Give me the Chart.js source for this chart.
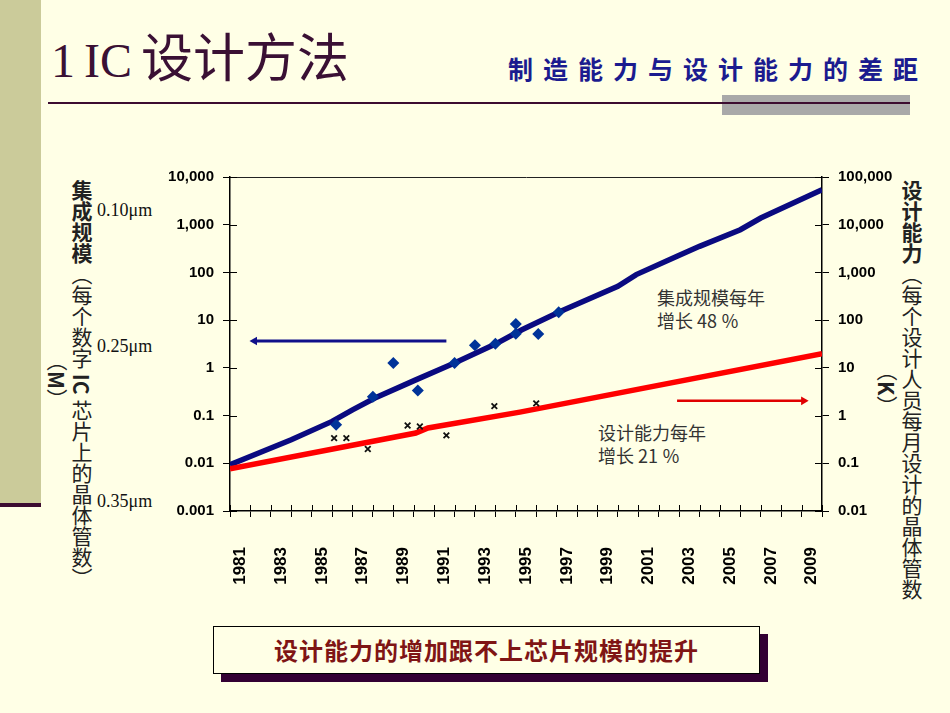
<!DOCTYPE html>
<html>
<head>
<meta charset="utf-8">
<script src="https://cdn.jsdelivr.net/npm/chart.js@4.4.1/dist/chart.umd.min.js"></script>
<style>
  html, body { margin: 0; padding: 0; }
  body {
    width: 950px; height: 713px; overflow: hidden; position: relative;
    background: #FFFFE6;
    font-family: "Liberation Sans", "Noto Sans CJK SC", sans-serif;
  }
  .abs { position: absolute; }
  #side { left: 0; top: 0; width: 41px; height: 504px; background: #CBCB9A; }
  #sideLine { left: 0; top: 503px; width: 41px; height: 4px; background: #3C0C30; }
  #title {
    left: 51px; top: 28px; font-size: 52px; line-height: 64px; color: #3A1034;
    font-family: "Liberation Serif", "Noto Sans CJK SC", serif; white-space: pre;
  }
  #title .lat { font-size: 48px; word-spacing: -3px; }
  #subtitle {
    left: 508px; top: 52px; font-size: 25px; line-height: 32px; color: #1B1B8F;
    font-weight: bold; letter-spacing: 10px; white-space: nowrap;
    font-family: "Noto Sans CJK SC", sans-serif;
  }
  #grayBar { left: 722px; top: 95px; width: 188px; height: 20px; background: #A9A9A9; }
  #rule { left: 48px; top: 102px; width: 862px; height: 2px; background: #3C0C30; }
  .vt {
    writing-mode: vertical-rl; font-size: 21px; line-height: 22px; color: #222;
    font-family: "Noto Sans CJK SC", sans-serif; white-space: nowrap;
  }
  .um { font-family: "Liberation Serif", serif; font-size: 18px; color: #111; }
  .note {
    font-family: "Noto Sans CJK SC", sans-serif; font-size: 18px; line-height: 23px;
    color: #333; white-space: nowrap;
  }
  #box {
    left: 213px; top: 626px; width: 545px; height: 46px; border: 1px solid #000;
    background: #FFFFE6; box-shadow: 8px 8px 0 #330033;
    text-align: center; line-height: 46px; font-size: 24px; font-weight: bold;
    color: #7F1515; letter-spacing: 1px; font-family: "Noto Sans CJK SC", sans-serif;
  }
  #chart { position: absolute; left: 0; top: 0; }
</style>
</head>
<body>
<div class="abs" id="side"></div>
<div class="abs" id="sideLine"></div>
<div class="abs" id="title"><span class="lat">1 IC </span>设计方法</div>
<div class="abs" id="subtitle">制造能力与设计能力的差距</div>
<div class="abs" id="grayBar"></div>
<div class="abs" id="rule"></div>

<div class="abs vt" style="left:71px; top:180px;"><b>集成规模</b>（每个数字 <b>IC</b> 芯片上的晶体管数）</div>
<div class="abs vt" style="left:46px; top:350px;">（<b>M</b>）</div>
<div class="abs vt" style="left:901px; top:180px;"><b>设计能力</b>（每个设计人员每月设计的晶体管数</div>
<div class="abs vt" style="left:876px; top:360px;">（<b>K</b>）</div>

<div class="abs um" style="left:97px; top:200px;">0.10μm</div>
<div class="abs um" style="left:97px; top:336px;">0.25μm</div>
<div class="abs um" style="left:97px; top:491px;">0.35μm</div>

<div class="abs note" style="left:657px; top:286px;">集成规模每年<br>增长 48 ％</div>
<div class="abs note" style="left:598px; top:421px;">设计能力每年<br>增长 21 ％</div>

<div class="abs" id="box">设计能力的增加跟不上芯片规模的提升</div>

<canvas id="chart" width="950" height="713"></canvas>

<script>
'use strict';

// x axis: years, labels on odd years
const yearLabels = ['1981', '1983', '1985', '1987', '1989', '1991', '1993', '1995',
  '1997', '1999', '2001', '2003', '2005', '2007', '2009'];
const firstYear = 1981;
const lastYear = 2009;

// left axis (M transistors per chip)
const leftTickValues = [0.001, 0.01, 0.1, 1, 10, 100, 1000, 10000];
const leftTickLabels = ['0.001', '0.01', '0.1', '1', '10', '100', '1,000', '10,000'];
// right axis (K transistors per designer-month)
const rightTickValues = [0.01, 0.1, 1, 10, 100, 1000, 10000, 100000];
const rightTickLabels = ['0.01', '0.1', '1', '10', '100', '1,000', '10,000', '100,000'];

// complexity trend line (left axis)
const scaleTrendYears = [1980.5, 1983.5, 1985.5, 1986.5, 1987.6, 1989.6, 1991.5, 1993.5,
  1994.8, 1996.7, 1999.5, 2000.4, 2002.4, 2003.5, 2005.5, 2006.5, 2009.5];
const scaleTrend = [0.0093, 0.031, 0.0755, 0.132, 0.233, 0.56, 1.26, 3.15,
  6.3, 15.3, 51, 90, 218, 352, 785, 1380, 5400];

// complexity measured points (diamonds, left axis)
const scalePointYears = [1985.7, 1987.5, 1988.5, 1989.7, 1991.5, 1992.5, 1993.5, 1994.5, 1994.5, 1995.6, 1996.6];
const scalePoints = [0.064, 0.248, 1.26, 0.337, 1.26, 2.97, 3.2, 8.3, 5.2, 5.1, 14.6];

// design productivity trend line (right axis)
const designTrendYears = [1980.5, 1989.6, 1990.2, 1994.7, 2009.5];
const designTrend = [0.077, 0.43, 0.55, 1.18, 19.8];

// design productivity measured points (x marks, right axis)
const designPointYears = [1985.6, 1986.2, 1987.25, 1989.2, 1989.8, 1991.1, 1993.45, 1995.5];
const designPoints = [0.337, 0.337, 0.199, 0.62, 0.59, 0.385, 1.58, 1.8];

// arrows pointing at the axes
const blueArrowYears = [1981.7, 1991.1];
const blueArrowLevel = 3.65;
const redArrowYears = [2002.4, 2008.6];
const redArrowLevel = 2.04;

function pts(xs, ys) {
  return xs.map((x, i) => ({ x: x, y: Array.isArray(ys) ? ys[i] : ys }));
}

const tickFont = { family: 'Liberation Sans', size: 15, weight: 'bold' };

// tick marks that cross the axis line (inner half)
const innerTicks = {
  id: 'innerTicks',
  beforeDatasetsDraw(chart) {
    const ctx = chart.ctx;
    const area = chart.chartArea;
    ctx.save();
    ctx.strokeStyle = '#000';
    ctx.lineWidth = 1;
    const sx = chart.scales.x;
    sx.ticks.forEach(t => {
      if (Number.isInteger(t.value)) return;
      const px = Math.round(sx.getPixelForValue(t.value)) + 0.5;
      ctx.beginPath(); ctx.moveTo(px, area.bottom); ctx.lineTo(px, area.bottom - 6); ctx.stroke();
    });
    chart.scales.y.ticks.forEach(t => {
      const py = Math.round(chart.scales.y.getPixelForValue(t.value)) + 0.5;
      ctx.beginPath(); ctx.moveTo(area.left, py); ctx.lineTo(area.left + 7, py); ctx.stroke();
    });
    chart.scales.y2.ticks.forEach(t => {
      const py = Math.round(chart.scales.y2.getPixelForValue(t.value)) + 0.5;
      ctx.beginPath(); ctx.moveTo(area.right, py); ctx.lineTo(area.right - 7, py); ctx.stroke();
    });
    ctx.restore();
  }
};

new Chart(document.getElementById('chart'), {
  type: 'line',
  data: {
    datasets: [
      {
        label: 'scalePoints', data: pts(scalePointYears, scalePoints), yAxisID: 'y',
        showLine: false, pointStyle: 'rectRot', pointRadius: 6,
        backgroundColor: '#003399', borderColor: '#003399', borderWidth: 0
      },
      {
        label: 'designPoints', data: pts(designPointYears, designPoints), yAxisID: 'y2',
        showLine: false, pointStyle: 'crossRot', pointRadius: 4,
        borderColor: '#111', borderWidth: 1.8
      },
      {
        label: 'designTrend', data: pts(designTrendYears, designTrend), yAxisID: 'y2',
        borderColor: '#FF0000', borderWidth: 5.5, pointRadius: 0, tension: 0
      },
      {
        label: 'scaleTrend', data: pts(scaleTrendYears, scaleTrend), yAxisID: 'y',
        borderColor: '#0A0A80', borderWidth: 5.5, pointRadius: 0, tension: 0
      },
      {
        label: 'blueArrow', data: pts(blueArrowYears, blueArrowLevel), yAxisID: 'y',
        borderColor: '#10108A', backgroundColor: '#10108A', borderWidth: 3,
        pointStyle: 'triangle', pointRadius: [5, 0], rotation: -90, pointBorderWidth: 0
      },
      {
        label: 'redArrow', data: pts(redArrowYears, redArrowLevel), yAxisID: 'y2',
        borderColor: '#E00000', backgroundColor: '#E00000', borderWidth: 2.5,
        pointStyle: 'triangle', pointRadius: [0, 5], rotation: 90, pointBorderWidth: 0
      }
    ]
  },
  options: {
    responsive: false,
    animation: false,
    devicePixelRatio: 1,
    layout: { padding: { top: 177, left: 0, right: 0, bottom: 0 } },
    plugins: { legend: { display: false }, tooltip: { enabled: false } },
    scales: {
      x: {
        type: 'linear', position: 'bottom',
        min: firstYear - 0.5, max: lastYear + 0.5,
        afterBuildTicks: s => {
          const t = [];
          for (let v = firstYear - 0.5; v <= lastYear + 0.5; v += 0.5) t.push({ value: v });
          s.ticks = t;
        },
        afterFit: s => { s.height = 202; },
        ticks: {
          autoSkip: false, minRotation: 90, maxRotation: 90, padding: 30,
          color: '#000', font: { family: 'Liberation Sans', size: 17, weight: 'bold' },
          callback: v => yearLabels.includes(String(v)) ? String(v) : ''
        },
        grid: {
          drawOnChartArea: false, tickLength: 6, lineWidth: 1,
          color: c => (c.tick && Number.isInteger(c.tick.value)) ? 'rgba(0,0,0,0)' : '#000'
        },
        border: { color: '#000', width: 1.5 }
      },
      xt: {
        type: 'linear', position: 'top',
        min: firstYear - 0.5, max: lastYear + 0.5,
        afterFit: s => { s.height = 0; },
        ticks: { display: false },
        grid: { drawOnChartArea: false, drawTicks: false },
        border: { color: '#222', width: 1 }
      },
      y: {
        type: 'logarithmic', position: 'left', min: 0.001, max: 10000,
        afterBuildTicks: s => { s.ticks = leftTickValues.map(v => ({ value: v })); },
        afterFit: s => { s.width = 230; },
        ticks: {
          padding: 9, color: '#000', font: tickFont,
          callback: v => leftTickLabels[leftTickValues.indexOf(v)]
        },
        grid: { drawOnChartArea: false, tickLength: 7, color: '#000' },
        border: { color: '#000', width: 1.5 }
      },
      y2: {
        type: 'logarithmic', position: 'right', min: 0.01, max: 100000,
        afterBuildTicks: s => { s.ticks = rightTickValues.map(v => ({ value: v })); },
        afterFit: s => { s.width = 128; },
        ticks: {
          padding: 9, color: '#000', font: tickFont,
          callback: v => rightTickLabels[rightTickValues.indexOf(v)]
        },
        grid: { drawOnChartArea: false, tickLength: 7, color: '#000' },
        border: { color: '#000', width: 1.5 }
      }
    }
  },
  plugins: [innerTicks]
});
</script>
</body>
</html>
